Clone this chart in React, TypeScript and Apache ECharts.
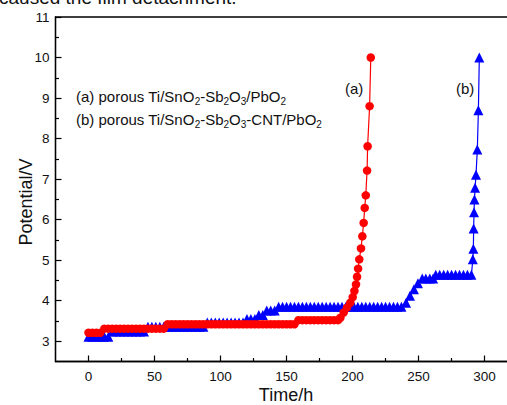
import { useEffect, useRef } from 'react';
import * as echarts from 'echarts';

const FONT = '"Liberation Sans", Arial, Helvetica, sans-serif';

// Curve (a): porous Ti/SnO2-Sb2O3/PbO2 (red circles)
const redTime = [
  0, 3, 6, 9,
  12, 15, 18, 21, 24, 27, 30, 33, 36, 39, 42, 45, 48, 51, 54, 57,
  60, 63, 66, 69, 72, 75, 78, 81, 84, 87, 90, 93, 96, 99, 102, 105, 108, 111, 114, 117, 120, 123, 126, 129, 132, 135, 138, 141, 144, 147, 150, 153, 156,
  159, 162, 165, 168, 171, 174, 177, 180, 183, 186, 189,
  190.8, 193.3, 195.8, 198.3, 200.1, 201.4, 202.6, 203.4, 204.2, 205.1, 206.4, 207.4, 208.4, 209.2, 210, 211, 211.4, 212.9, 213.8,
];
const redPotential = [
  3.21, 3.21, 3.21, 3.21,
  3.31, 3.31, 3.31, 3.31, 3.31, 3.31, 3.31, 3.31, 3.31, 3.31, 3.31, 3.31, 3.31, 3.31, 3.31, 3.31,
  3.42, 3.42, 3.42, 3.42, 3.42, 3.42, 3.42, 3.42, 3.42, 3.42, 3.42, 3.42, 3.42, 3.42, 3.42, 3.42, 3.42, 3.42, 3.42, 3.42, 3.42, 3.42, 3.42, 3.42, 3.42, 3.42, 3.42, 3.42, 3.42, 3.42, 3.42, 3.42, 3.42,
  3.52, 3.52, 3.52, 3.52, 3.52, 3.52, 3.52, 3.52, 3.52, 3.52, 3.52,
  3.58, 3.71, 3.83, 3.95, 4.09, 4.24, 4.4, 4.59, 4.79, 5.02, 5.29, 5.59, 5.92, 6.29, 6.6, 7.21, 7.81, 8.8, 10.0,
];

// Curve (b): porous Ti/SnO2-Sb2O3-CNT/PbO2 (blue triangles)
const blueTime = [
  0, 3, 6, 9, 12, 15,
  18, 21, 24, 27, 30, 33, 36, 39, 42,
  45, 48, 51, 54, 57, 60, 63, 66, 69, 72, 75, 78, 81, 84, 87,
  90, 93, 96, 99, 102, 105, 108, 111, 114, 117,
  120, 123, 126,
  129, 132,
  135, 138, 141,
  144, 147, 150, 153, 156, 159, 162, 165, 168, 171, 174, 177, 180, 183, 186, 189, 192, 195, 198, 201, 204, 207, 210, 213, 216, 219, 222, 225, 228, 231, 234, 237,
  240.5, 243.5, 246.5, 249.5, 252.8,
  255.5, 258.5, 261,
  263, 266, 269, 272, 275, 278, 281, 284, 287, 290,
  291.1, 291.5, 291.7, 292, 292.3, 292.8, 293.5, 294.5, 295.3, 296,
];
const bluePotential = [
  3.11, 3.11, 3.11, 3.11, 3.11, 3.11,
  3.24, 3.24, 3.24, 3.24, 3.24, 3.24, 3.24, 3.24, 3.24,
  3.36, 3.36, 3.36, 3.36, 3.36, 3.36, 3.36, 3.36, 3.36, 3.36, 3.36, 3.36, 3.36, 3.36, 3.36,
  3.46, 3.46, 3.46, 3.46, 3.46, 3.46, 3.46, 3.46, 3.46, 3.46,
  3.55, 3.55, 3.55,
  3.65, 3.65,
  3.76, 3.76, 3.76,
  3.85, 3.85, 3.85, 3.85, 3.85, 3.85, 3.85, 3.85, 3.85, 3.85, 3.85, 3.85, 3.85, 3.85, 3.85, 3.85, 3.85, 3.85, 3.85, 3.85, 3.85, 3.85, 3.85, 3.85, 3.85, 3.85, 3.85, 3.85, 3.85, 3.85, 3.85, 3.85,
  3.95, 4.12, 4.28, 4.43, 4.55,
  4.55, 4.55, 4.55,
  4.64, 4.64, 4.64, 4.64, 4.64, 4.64, 4.64, 4.64, 4.64, 4.64,
  5.02, 5.28, 5.78, 6.18, 6.5, 6.79, 7.11, 7.73, 8.7, 10.0,
];

const xMajorTicks = [0, 50, 100, 150, 200, 250, 300];
const xMinorTicks = [25, 75, 125, 175, 225, 275];
const yMajorTicks = [3, 4, 5, 6, 7, 8, 9, 10, 11];
const yMinorTicks = [3.5, 4.5, 5.5, 6.5, 7.5, 8.5, 9.5, 10.5];

const legendA = '{n|(a) porous Ti/SnO}{s|2}{n|-Sb}{s|2}{n|O}{s|3}{n|/PbO}{s|2}';
const legendB = '{n|(b) porous Ti/SnO}{s|2}{n|-Sb}{s|2}{n|O}{s|3}{n|-CNT/PbO}{s|2}';

const X_MIN = -25;
const X_MAX = 320;
const Y_MIN = 2.5;
const Y_MAX = 11;

export default function App() {
  const ref = useRef<HTMLDivElement>(null);

  useEffect(() => {
    document.body.style.margin = '0';
    const chart = echarts.init(ref.current!, null, { renderer: 'svg' });
    const richStyles = {
      n: { fontSize: 15, fontFamily: FONT, color: '#111' },
      s: { fontSize: 10, fontFamily: FONT, color: '#111', padding: [9, 0, 0, 0] },
    };
    const axisLineStyle = { color: '#000', width: 1.3 };
    chart.setOption({
      animation: false,
      backgroundColor: '#fff',
      grid: {
        left: 55.5,
        top: 17,
        right: 4,
        bottom: 43.5,
        show: true,
        borderColor: '#000',
        borderWidth: 1.3,
        backgroundColor: 'transparent',
        containLabel: false,
        outerBoundsMode: 'none',
      },
      xAxis: [
        {
          type: 'value',
          min: X_MIN,
          max: X_MAX,
          position: 'bottom',
          axisLine: { show: true, onZero: false, lineStyle: axisLineStyle },
          axisTick: { show: true, inside: true, length: 6, customValues: xMajorTicks, lineStyle: { color: '#000', width: 1.2 } },
          axisLabel: { customValues: xMajorTicks, fontSize: 13.5, fontFamily: FONT, color: '#111', margin: 8 },
          splitLine: { show: false },
        },
        {
          type: 'value',
          min: X_MIN,
          max: X_MAX,
          position: 'bottom',
          axisLine: { show: false, onZero: false },
          axisTick: { show: true, inside: true, length: 3.5, customValues: xMinorTicks, lineStyle: { color: '#000', width: 1.2 } },
          axisLabel: { show: false },
          splitLine: { show: false },
        },
      ],
      yAxis: [
        {
          type: 'value',
          min: Y_MIN,
          max: Y_MAX,
          position: 'left',
          axisLine: { show: true, onZero: false, lineStyle: axisLineStyle },
          axisTick: { show: true, inside: true, length: 6, customValues: yMajorTicks, lineStyle: { color: '#000', width: 1.2 } },
          axisLabel: { customValues: yMajorTicks, fontSize: 13.5, fontFamily: FONT, color: '#111', margin: 6 },
          splitLine: { show: false },
        },
        {
          type: 'value',
          min: Y_MIN,
          max: Y_MAX,
          position: 'left',
          axisLine: { show: false, onZero: false },
          axisTick: { show: true, inside: true, length: 3.5, customValues: yMinorTicks, lineStyle: { color: '#000', width: 1.2 } },
          axisLabel: { show: false },
          splitLine: { show: false },
        },
      ],
      graphic: [
        {
          type: 'text',
          left: -1,
          top: -12,
          style: { text: 'caused the film detachment.', font: `19px ${FONT}`, fill: '#111' },
        },
        {
          type: 'text',
          x: 286,
          y: 395,
          style: { text: 'Time/h', font: `18px ${FONT}`, fill: '#111', align: 'center', verticalAlign: 'middle' },
        },
        {
          type: 'text',
          x: 26,
          y: 202,
          rotation: Math.PI / 2,
          style: { text: 'Potential/V', font: `18px ${FONT}`, fill: '#111', align: 'center', verticalAlign: 'middle' },
        },
        {
          type: 'text',
          x: 76,
          y: 87,
          style: { text: legendA, rich: richStyles, fill: '#111' },
        },
        {
          type: 'text',
          x: 76,
          y: 110,
          style: { text: legendB, rich: richStyles, fill: '#111' },
        },
        {
          type: 'text',
          x: 345,
          y: 81,
          style: { text: '(a)', font: `15px ${FONT}`, fill: '#111' },
        },
        {
          type: 'text',
          x: 456,
          y: 81,
          style: { text: '(b)', font: `15px ${FONT}`, fill: '#111' },
        },
      ],
      series: [
        {
          name: '(b)',
          type: 'line',
          xAxisIndex: 0,
          yAxisIndex: 0,
          data: blueTime.map((t, i) => [t, bluePotential[i]]),
          symbol: 'triangle',
          symbolSize: 10,
          itemStyle: { color: '#0000ff' },
          lineStyle: { color: '#0000ff', width: 1.2 },
          z: 2,
        },
        {
          name: '(a)',
          type: 'line',
          xAxisIndex: 0,
          yAxisIndex: 0,
          data: redTime.map((t, i) => [t, redPotential[i]]),
          symbol: 'circle',
          symbolSize: 8.5,
          itemStyle: { color: '#ff0000' },
          lineStyle: { color: '#ff0000', width: 1.2 },
          z: 3,
        },
      ],
    });
    return () => chart.dispose();
  }, []);

  return (
    <div style={{ width: 507, height: 405, overflow: 'hidden', position: 'relative', background: '#fff' }}>
      <div ref={ref} style={{ width: 515, height: 405 }} />
    </div>
  );
}
